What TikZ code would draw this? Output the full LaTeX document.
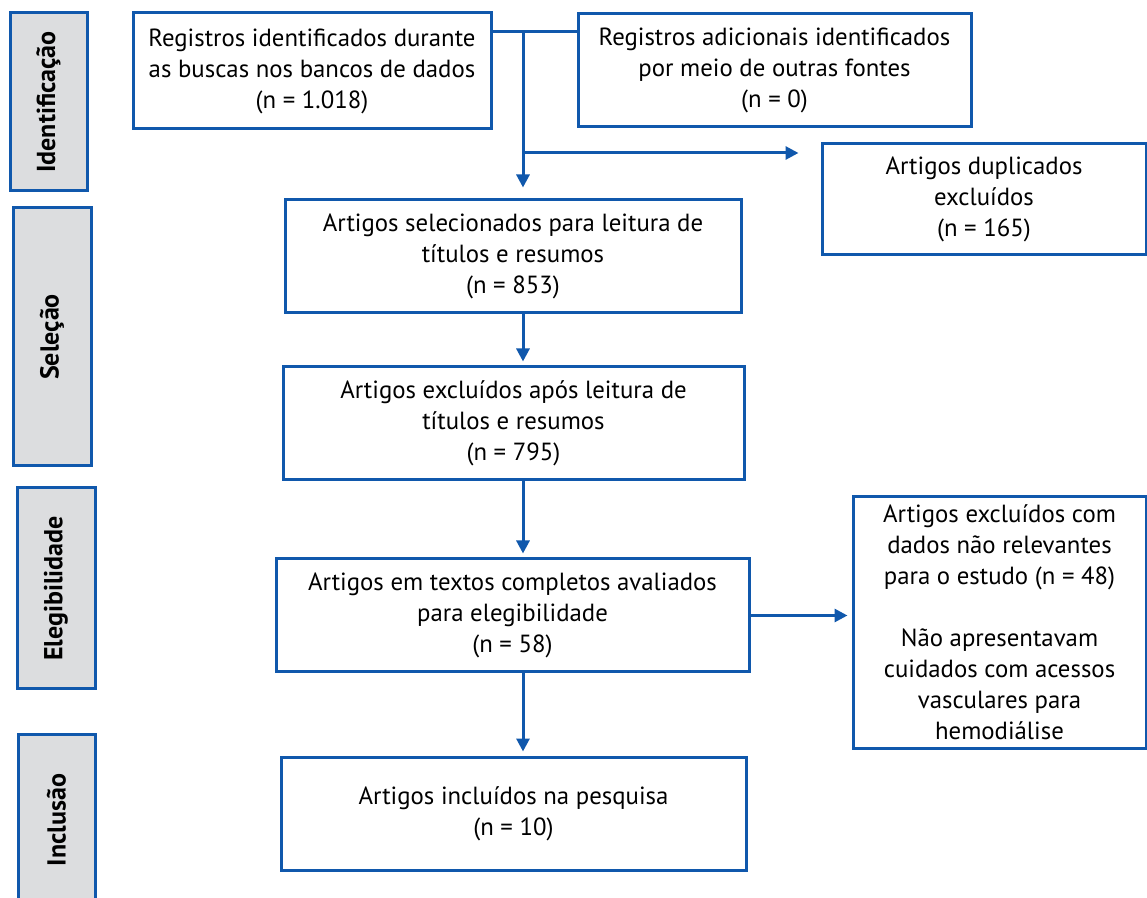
\documentclass[tikz,border=0pt]{standalone}
\usepackage{fontspec}
\setmainfont{PT Sans}
\usepackage{tikz}
\usetikzlibrary{arrows.meta}

\definecolor{flowblue}{RGB}{16,88,172}
\definecolor{phasegray}{RGB}{220,221,223}

\begin{document}
\begin{tikzpicture}[x=0.5pt,y=-0.5pt,
        box/.style={draw=flowblue,line width=1.5pt,align=center,inner sep=0pt,
            font=\fontsize{12.4}{15.5}\selectfont},
        phase/.style={draw=flowblue,fill=phasegray,line width=1.5pt,inner sep=0pt,
            rotate=90,font=\fontsize{13}{15}\selectfont\bfseries},
        link/.style={draw=flowblue,line width=1.5pt},
        arr/.style={link,-{Triangle[width=6.5pt,length=6.5pt]},shorten >=2pt}]
        \clip (0,0) rectangle (1147,898);

        % Phases
        \node [phase,minimum width=89pt,minimum height=38.5pt] (ident) at (48.5,102) {Identificação};
        \node [phase,minimum width=129pt,minimum height=39pt] (selec) at (52,337) {Seleção};
        \node [phase,minimum width=100.5pt,minimum height=39pt] (elegib) at (56,588.5) {Elegibilidade};
        \node [phase,minimum width=86pt,minimum height=38.5pt] (inclus) at (56.5,820) {Inclusão};

        % Boxes
        \node [box,minimum width=179pt,minimum height=58pt] (bancos) at (312,71)
            {Registros identificados durante\\as buscas nos bancos de dados\\(n = 1.018)};
        \node [box,minimum width=196.5pt,minimum height=56.5pt] (outras) at (774.5,70.5)
            {Registros adicionais identificados\\por meio de outras fontes\\(n = 0)};
        \node [box,minimum width=162pt,minimum height=55.5pt] (duplic) at (984,199.5)
            {Artigos duplicados\\excluídos\\(n = 165)};
        \node [box,minimum width=228pt,minimum height=56.5pt] (leitura) at (513,256.5)
            {Artigos selecionados para leitura de\\títulos e resumos\\(n = 853)};
        \node [box,minimum width=230.5pt,minimum height=56.5pt] (apos) at (513.5,423.5)
            {Artigos excluídos após leitura de\\títulos e resumos\\(n = 795)};
        \node [box,minimum width=236.5pt,minimum height=56.5pt] (completos) at (512.5,615.5)
            {Artigos em textos completos avaliados\\para elegibilidade\\(n = 58)};
        \node [box,minimum width=232.5pt,minimum height=56.5pt] (incluidos) at (513.5,813.5)
            {Artigos incluídos na pesquisa\\(n = 10)};
        \node [box,minimum width=146.5pt,minimum height=125.5pt] (naorelev) at (999.5,622.5)
            {Artigos excluídos com\\dados não relevantes\\para o estudo (n = 48)\\[15.5pt]Não apresentavam\\cuidados com acessos\\vasculares para\\hemodiálise};

        % Arrows
        \coordinate (merge) at (523,32);
        \coordinate (split) at (523,153);
        \draw [link] (bancos.east |- merge) -- (outras.west |- merge);
        \draw [arr,shorten >=5.5pt] (merge) -- (merge |- leitura.north);
        \draw [arr,shorten >=11pt] (split) -- (split -| duplic.west);
        \draw [arr] (leitura.south -| split) -- (apos.north -| split);
        \draw [arr] (apos.south -| split) -- (completos.north -| split);
        \draw [arr] (completos.south -| split) -- (incluidos.north -| split);
        \draw [arr] (completos.east) -- (naorelev.west |- completos.east);
\end{tikzpicture}
\end{document}
